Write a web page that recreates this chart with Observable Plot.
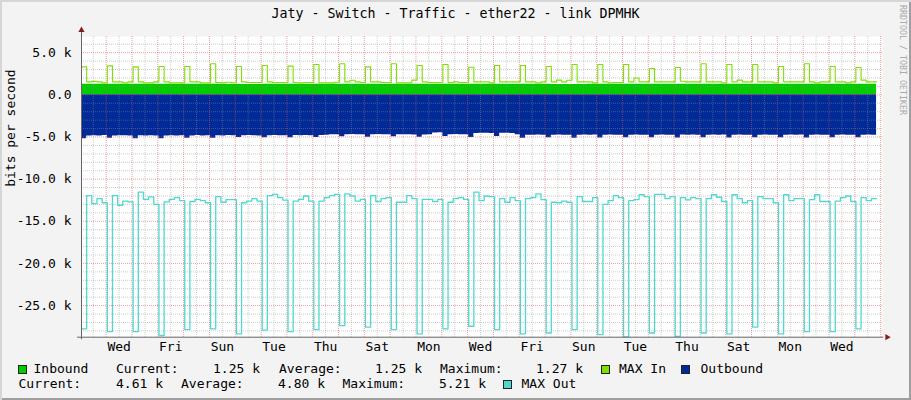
<!DOCTYPE html>
<html><head><meta charset="utf-8">
<script src="https://cdn.jsdelivr.net/npm/d3@7"></script>
<script src="https://cdn.jsdelivr.net/npm/@observablehq/plot@0.6"></script>
<style>
html,body{margin:0;padding:0;background:#f3f3f3;}
#wrap{position:relative;width:911px;height:400px;background:#f3f3f3;font-family:"DejaVu Sans Mono",monospace;color:#000;overflow:hidden;box-shadow:inset 2px 2px 0 #d6d6d6, inset -2px -2px 0 #9e9e9e;}
#title{position:absolute;left:0;top:7.4px;width:911px;text-align:center;font-size:13.3px;line-height:13px;white-space:pre;}
#plot{position:absolute;left:0;top:0;}
#plot svg text{font-family:"DejaVu Sans Mono",monospace;}
#credit{position:absolute;left:898px;top:5px;writing-mode:vertical-rl;font-size:8.3px;color:#aaa;line-height:10px;white-space:pre;}
.lg{position:absolute;font-size:13px;line-height:13px;white-space:pre;}
.sw{position:absolute;width:9px;height:9px;box-sizing:border-box;border:1px solid #222;}
</style></head><body>
<div id="wrap">
  <div id="plot"></div>
  <div id="title"></div>
  <div id="credit"></div>
  <div id="legend"></div>
</div>
<script>
// ---- text ----
const titleText = "Jaty - Switch - Traffic - ether22 - link DPMHK";
const creditText = "RRDTOOL / TOBI OETIKER";
const yTitle = "bits per second";

// ---- tick labels ----
const yTicks = [5, 0, -5, -10, -15, -20, -25];               // thousands of bits/s
const yTickLabels = ["5.0 k", "0.0", "-5.0 k", "-10.0 k", "-15.0 k", "-20.0 k", "-25.0 k"];
const xTickLabels = ["Wed","Fri","Sun","Tue","Thu","Sat","Mon","Wed","Fri","Sun","Tue","Thu","Sat","Mon","Wed"];

// ---- series (k bits/s), 5 samples per day ----
const inbound = [1.25,1.25,1.26,1.25,1.24,1.25,1.25,1.26,1.25,1.25,1.27,1.25,1.25,1.24,1.25,1.25,1.26,1.25,1.25,1.25,1.26,1.25]; // one value per 7 samples

const maxIn = [
 3.32,1.54,1.60,1.54,1.42, 3.44,1.54,1.54,1.42,1.54,
 3.32,1.54,1.42,1.42,1.54, 3.36,1.54,1.42,1.42,1.42,
 3.36,1.54,1.54,1.42,1.42, 3.68,1.46,1.42,1.50,1.42,
 3.36,1.54,1.46,1.46,1.46, 3.48,1.54,1.46,1.46,1.46,
 3.40,1.46,1.42,1.46,1.46, 3.60,1.42,1.42,1.42,1.50,
 3.68,1.54,1.73,1.54,1.46, 3.32,1.54,1.54,1.46,1.46,
 3.68,1.42,1.42,1.42,1.75, 3.48,1.54,1.46,1.46,1.46,
 3.60,1.46,1.54,1.46,1.46, 3.28,1.54,1.54,1.54,1.42,
 3.48,1.54,1.54,1.54,1.54, 3.48,1.54,1.54,1.42,1.54,
 3.36,1.54,1.75,1.54,1.73, 3.60,1.54,1.54,1.54,1.42,
 3.60,1.54,1.42,1.46,1.46, 3.60,1.54,2.00,1.54,1.54,
 3.12,1.54,1.54,1.54,1.54, 3.24,1.62,1.54,1.54,1.54,
 3.68,1.54,1.54,1.54,1.42, 3.60,1.54,1.75,1.54,1.54,
 3.60,1.54,1.54,1.54,1.42, 3.36,1.54,1.54,1.54,1.54,
 3.68,1.54,1.42,1.54,1.54, 3.36,1.54,1.54,1.42,1.54,
 3.24,1.75,1.54,1.54];

const outbound = [
 -5.22,-4.87,-4.85,-4.87,-4.83, -5.14,-4.87,-4.85,-4.85,-4.87,
 -5.22,-4.85,-4.87,-4.85,-4.87, -5.22,-4.87,-4.85,-4.87,-4.85,
 -5.14,-4.87,-4.83,-4.87,-4.85, -5.14,-4.85,-4.87,-4.83,-4.85,
 -5.06,-4.85,-4.83,-4.85,-4.87, -5.10,-4.85,-4.83,-4.85,-4.85,
 -5.10,-4.83,-4.85,-4.83,-4.85, -5.06,-4.83,-4.80,-4.72,-4.72,
 -4.98,-4.72,-4.70,-4.72,-4.74, -5.02,-4.72,-4.70,-4.72,-4.74,
 -4.98,-4.72,-4.74,-4.72,-4.76, -5.02,-4.76,-4.72,-4.52,-4.50,
 -4.94,-4.72,-4.70,-4.72,-4.74, -5.06,-4.60,-4.56,-4.56,-4.58,
 -4.95,-4.56,-4.56,-4.58,-4.72, -5.14,-4.79,-4.79,-4.77,-4.79,
 -5.10,-4.79,-4.77,-4.79,-4.79, -5.14,-4.79,-4.77,-4.79,-4.77,
 -5.12,-4.79,-4.77,-4.79,-4.79, -5.10,-4.79,-4.77,-4.79,-4.79,
 -5.08,-4.79,-4.77,-4.79,-4.79, -5.12,-4.77,-4.79,-4.77,-4.79,
 -5.10,-4.79,-4.77,-4.79,-4.77, -5.12,-4.79,-4.77,-4.79,-4.79,
 -5.08,-4.79,-4.77,-4.79,-4.79, -5.10,-4.79,-4.77,-4.79,-4.77,
 -5.12,-4.79,-4.77,-4.79,-4.79, -5.10,-4.79,-4.77,-4.79,-4.79,
 -5.10,-4.79,-4.77,-4.79];

const maxOut = [
 -27.76,-11.95,-12.90,-12.30,-12.80, -28.10,-11.95,-13.10,-12.60,-12.70,
 -28.10,-11.55,-12.40,-12.10,-13.00, -28.55,-12.70,-12.40,-12.20,-12.55,
 -27.85,-12.65,-12.40,-12.55,-12.80, -27.76,-12.07,-12.74,-12.42,-12.42,
 -28.35,-12.80,-12.60,-12.30,-12.60, -27.90,-11.95,-11.80,-12.20,-12.50,
 -28.10,-12.60,-12.40,-12.00,-12.60, -27.85,-12.60,-12.20,-11.95,-11.80,
 -27.37,-11.75,-12.00,-12.60,-12.40, -27.56,-11.95,-12.65,-12.30,-12.20,
 -27.85,-12.74,-12.74,-11.95,-12.30, -28.35,-12.40,-12.40,-12.65,-12.40,
 -27.76,-12.74,-12.30,-12.20,-12.40, -27.45,-11.55,-12.55,-12.00,-12.07,
 -27.85,-12.30,-12.74,-12.20,-12.55, -28.35,-12.30,-12.20,-11.75,-12.42,
 -28.25,-12.74,-12.80,-12.60,-12.74, -27.85,-12.07,-12.65,-12.65,-12.20,
 -28.45,-13.00,-12.55,-11.95,-12.20, -28.70,-12.55,-12.42,-11.85,-12.07,
 -28.25,-11.80,-11.80,-12.30,-12.07, -28.65,-12.20,-12.45,-12.20,-12.30,
 -28.25,-12.30,-11.85,-12.15,-12.65, -28.35,-11.85,-12.30,-12.80,-12.55,
 -27.56,-12.07,-12.30,-12.30,-12.80, -28.35,-11.85,-12.55,-12.30,-12.30,
 -28.10,-12.42,-11.85,-12.65,-12.65, -28.10,-12.60,-12.20,-12.00,-12.65,
 -27.76,-12.20,-12.55,-12.30];

// ---- legend ----
const legendNames = ["Inbound", "MAX In", "Outbound", "MAX Out"];
const legendColors = ["#00CC00", "#7FE000", "#002A97", "#50D8D0"];
const statLabels = ["Current:", "Average:", "Maximum:"];
const inboundStats = ["1.25 k", "1.25 k", "1.27 k"];
const outboundStats = ["4.61 k", "4.80 k", "5.21 k"];

// ---- layout / scales ----
const stepsPerDay = 5;
const xDomain = [0, 31.03];          // days shown
const yDomain = [-28.75, 6.92];
const firstMidnight = 0.957;

function stepRows(values, w) {
  return values.flatMap((v, i) => [{x: i * w, y: v}, {x: (i + 1) * w, y: v}]);
}
const inboundRows = stepRows(inbound, 7 / stepsPerDay);
const outboundRows = stepRows(outbound, 1 / stepsPerDay);
const maxInRows = stepRows(maxIn, 1 / stepsPerDay);
const maxOutRows = stepRows(maxOut, 1 / stepsPerDay);

const midnights = d3.range(firstMidnight, xDomain[1], 1);
const noons = d3.range(firstMidnight - 0.5, xDomain[1], 1);
const yMinor = d3.range(-28, 7).filter(v => v % 5 !== 0);
const xTicks = xTickLabels.map((_, i) => firstMidnight + 0.5 + 2 * i);
const yLab = new Map(yTicks.map((v, i) => [v, yTickLabels[i]]));
const xLab = new Map(xTicks.map((v, i) => [v, xTickLabels[i]]));

const minorStyle = {stroke: "#8f8f8f", strokeOpacity: 0.45, strokeDasharray: "1,1"};
const majorStyle = {stroke: "#de5050", strokeOpacity: 0.55, strokeDasharray: "1,1"};

const chart = Plot.plot({
  width: 911, height: 360,
  marginLeft: 81, marginRight: 29, marginTop: 36, marginBottom: 23.3,
  style: {background: "transparent", fontFamily: "'DejaVu Sans Mono', monospace", fontSize: "13px", color: "#000", overflow: "visible"},
  x: {domain: xDomain},
  y: {domain: yDomain},
  marks: [
    Plot.frame({fill: "#ffffff", stroke: "none"}),
    Plot.areaY(inboundRows, {x: "x", y1: 0, y2: "y", fill: legendColors[0]}),
    Plot.areaY(outboundRows, {x: "x", y1: 0, y2: "y", fill: legendColors[2]}),
    Plot.ruleY(yMinor, minorStyle),
    Plot.ruleX(noons, minorStyle),
    Plot.ruleY(yTicks, majorStyle),
    Plot.ruleX(midnights, majorStyle),
    Plot.line(maxInRows, {x: "x", y: "y", stroke: legendColors[1], strokeWidth: 1.1}),
    Plot.line(maxOutRows, {x: "x", y: "y", stroke: legendColors[3], strokeWidth: 1.3}),
    Plot.axisY(yTicks, {tickSize: 0, tickPadding: 10, tickFormat: d => yLab.get(d), label: null, fontSize: 13}),
    Plot.axisX(xTicks, {tickSize: 0, tickPadding: 5, tickFormat: d => xLab.get(d), label: null, fontSize: 13}),
    Plot.text([yTitle], {text: d => d, frameAnchor: "left", rotate: -90, dx: -71, fontSize: 13}),
    Plot.ruleX([xDomain[0]], {y1: yDomain[0] - 0.3, y2: yDomain[1] + 0.6, stroke: "#666", strokeWidth: 1}),
    Plot.ruleY([yDomain[0]], {x1: xDomain[0] - 0.15, x2: xDomain[1] + 0.05, stroke: "#666", strokeWidth: 1}),
    Plot.dot([[xDomain[0], yDomain[1] + 0.75]], {x: d => d[0], y: d => d[1], symbol: "triangle", r: 2.3, fill: "#7f1f1f", stroke: "none"}),
    Plot.dot([[xDomain[1] + 0.18, yDomain[0]]], {x: d => d[0], y: d => d[1], symbol: "triangle", rotate: 90, r: 2.3, fill: "#7f1f1f", stroke: "none"})
  ]
});
document.getElementById("plot").appendChild(chart);
document.getElementById("title").textContent = titleText;
document.getElementById("credit").textContent = creditText;

// legend (positioned like the RRD legend)
const lg = document.getElementById("legend");
function addText(t, x, y) { const s = document.createElement("span"); s.className = "lg"; s.textContent = t; s.style.left = x + "px"; s.style.top = y + "px"; lg.appendChild(s); }
function addSwatch(c, x, y) { const s = document.createElement("span"); s.className = "sw"; s.style.background = c; s.style.left = x + "px"; s.style.top = y + "px"; lg.appendChild(s); }
const r1 = 362.3, r2 = 377.3;
addSwatch(legendColors[0], 18, r1 + 2.5);
addText(legendNames[0], 33.5, r1);
addText(statLabels[0], 116, r1); addText(inboundStats[0], 213, r1);
addText(statLabels[1], 279, r1); addText(inboundStats[1], 375, r1);
addText(statLabels[2], 440, r1); addText(inboundStats[2], 536, r1);
addSwatch(legendColors[1], 601, r1 + 2.5); addText(legendNames[1], 619, r1);
addSwatch(legendColors[2], 681, r1 + 2.5); addText(legendNames[2], 700.5, r1);
addText(statLabels[0], 18.5, r2); addText(outboundStats[0], 116, r2);
addText(statLabels[1], 181, r2); addText(outboundStats[1], 278, r2);
addText(statLabels[2], 342.5, r2); addText(outboundStats[2], 439, r2);
addSwatch(legendColors[3], 503, r2 + 2.5); addText(legendNames[3], 521.5, r2);
</script>
</body></html>
